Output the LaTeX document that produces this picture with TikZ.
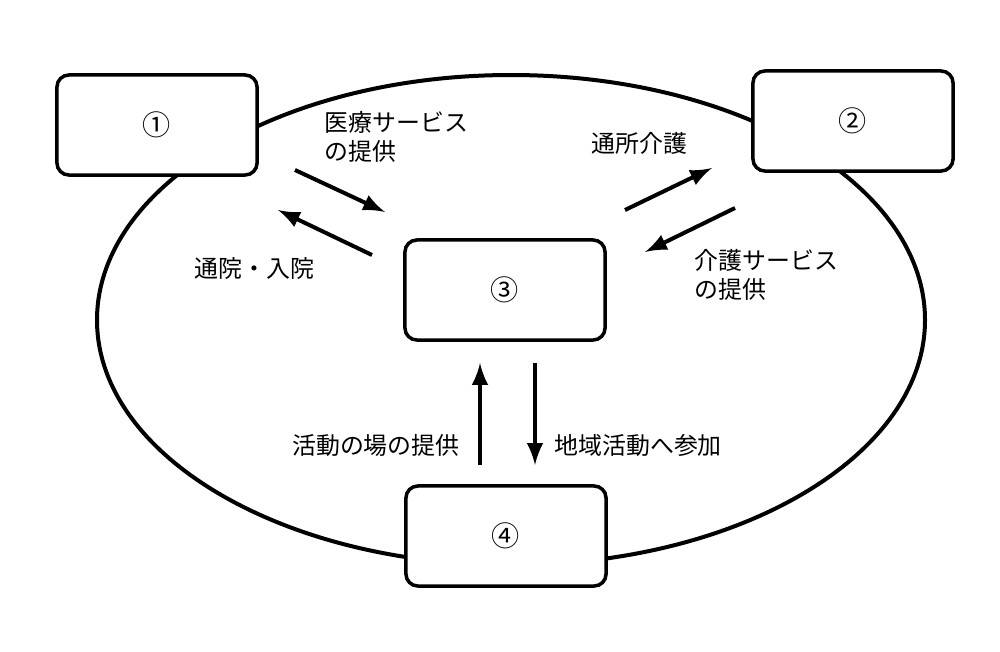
\documentclass[tikz,border=0pt]{standalone}
\usepackage{fontspec}
\setmainfont{Noto Sans CJK JP}
\usetikzlibrary{positioning}
\tikzset{
  box/.style={draw, line width=0.035cm, rounded corners=0.12cm, minimum width=2.0cm, minimum height=1.0cm, font=\fontsize{8}{9}\selectfont},
  lbl/.style={font=\fontsize{6.8}{8.4}\selectfont, align=left},
  arr/.style={-latex, line width=0.04cm}
}
\begin{document}
\begin{tikzpicture}[x=0.01cm,y=-0.01cm]
  \useasboundingbox (0,0) rectangle (1000,651);
  {\fontsize{6.6}{8.2}\selectfont

  % the surrounding ellipse
  \draw [line width=0.04cm] (511,320) ellipse [x radius=414, y radius=245];

  % the four places
  \node [box, fill=white] (p1) at (157,125) {①};
  \node [box, fill=white] (p2) at (853,121) {②};
  \node [box, fill=white] (p3) at (505,290) {③};
  \node [box, fill=white] (p4) at (506,536) {④};

  % arrow ends
  \coordinate (a1s) at (295,170); \coordinate (a1e) at (385,212);
  \coordinate (a2s) at (372,255); \coordinate (a2e) at (278,210);
  \coordinate (a3s) at (625,210); \coordinate (a3e) at (712,168);
  \coordinate (a4s) at (735,208); \coordinate (a4e) at (645,252);
  \coordinate (a5s) at (480,465); \coordinate (a5e) at (480,363);
  \coordinate (a6s) at (535,363); \coordinate (a6e) at (535,465);

  \draw [arr] (a1s) -- (a1e);
  \draw [arr] (a2s) -- (a2e);
  \draw [arr] (a3s) -- (a3e);
  \draw [arr] (a4s) -- (a4e);
  \draw [arr] (a5s) -- (a5e);
  \draw [arr] (a6s) -- (a6e);

  % labels
  \node [lbl, anchor=west] (t1) at (316,137) {医療サービス\\の提供};
  \node [lbl, anchor=west] (t2) at (583,143) {通所介護};
  \node [lbl, anchor=west] (t3) at (186,268) {通院・入院};
  \node [lbl, anchor=west] (t4) at (686,275) {介護サービス\\の提供};
  \node [lbl, anchor=east] (t5) at (468,445) {活動の場の提供};
  \node [lbl, anchor=west] (t6) at (546,445) {地域活動へ参加};
  }
\end{tikzpicture}
\end{document}
